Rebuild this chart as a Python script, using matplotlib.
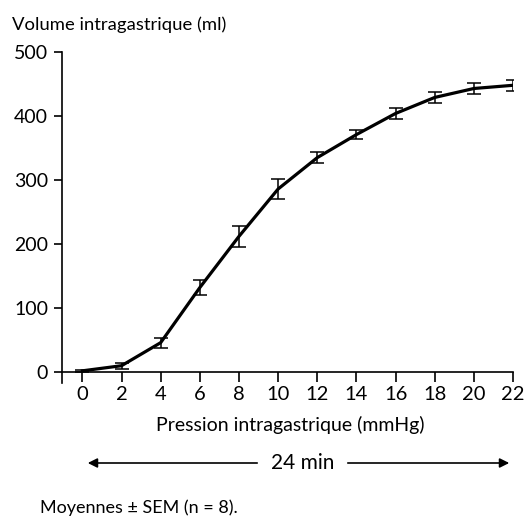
import matplotlib
matplotlib.use("Agg")
import matplotlib.pyplot as plt

pressure = [0, 2, 4, 6, 8, 10, 12, 14, 16, 18, 20, 22]
volume = [2, 10, 46, 132, 212, 286, 335, 371, 404, 429, 443, 448]
sem = [2, 5, 8, 12, 16, 16, 9, 7, 9, 9, 9, 9]
y_ticks = [0, 100, 200, 300, 400, 500]

plt.rcParams["font.family"] = ["Lato", "DejaVu Sans"]

fig = plt.figure(figsize=(5.28, 5.17), dpi=100)
ax = fig.add_axes([62 / 528, (517 - 383) / 517, (513 - 62) / 528, (383 - 52) / 517])

ax.errorbar(pressure, volume, yerr=sem, color="black", lw=2.3, elinewidth=1.1,
            capsize=4.8, capthick=1.1)

ax.set_xlim(-1.04, 22)
ax.set_ylim(-17, 500)
ax.set_xticks(pressure)
ax.set_yticks(y_ticks)
ax.spines["top"].set_visible(False)
ax.spines["right"].set_visible(False)
ax.spines["bottom"].set_position(("data", 0))
for s in ("left", "bottom"):
    ax.spines[s].set_linewidth(1.2)
ax.tick_params(axis="x", direction="out", length=7, width=1.2, pad=3, labelsize=14.5)
ax.tick_params(axis="y", direction="out", length=6, width=1.2, pad=4, labelsize=14)

fig.text(12 / 528, 1 - 25 / 517, "Volume intragastrique (ml)", fontsize=13.3, va="center")
fig.text(290 / 528, 1 - 425 / 517, "Pression intragastrique (mmHg)", fontsize=14,
         ha="center", va="center")

# 24 min arrow
y_arr = 1 - 463 / 517
fig.text(303 / 528, y_arr, "24 min", fontsize=15, ha="center", va="center")
arrow_style = dict(arrowstyle="-|>", color="black", lw=1.2, mutation_scale=14)
fig.add_artist(matplotlib.patches.FancyArrowPatch((260 / 528, y_arr), (85 / 528, y_arr),
                                                   transform=fig.transFigure, **arrow_style))
fig.add_artist(matplotlib.patches.FancyArrowPatch((345 / 528, y_arr), (512 / 528, y_arr),
                                                   transform=fig.transFigure, **arrow_style))

fig.text(40 / 528, 1 - 508 / 517, "Moyennes \u00b1 SEM (n = 8).", fontsize=13, va="center")

fig.savefig("out.png", dpi=100)
